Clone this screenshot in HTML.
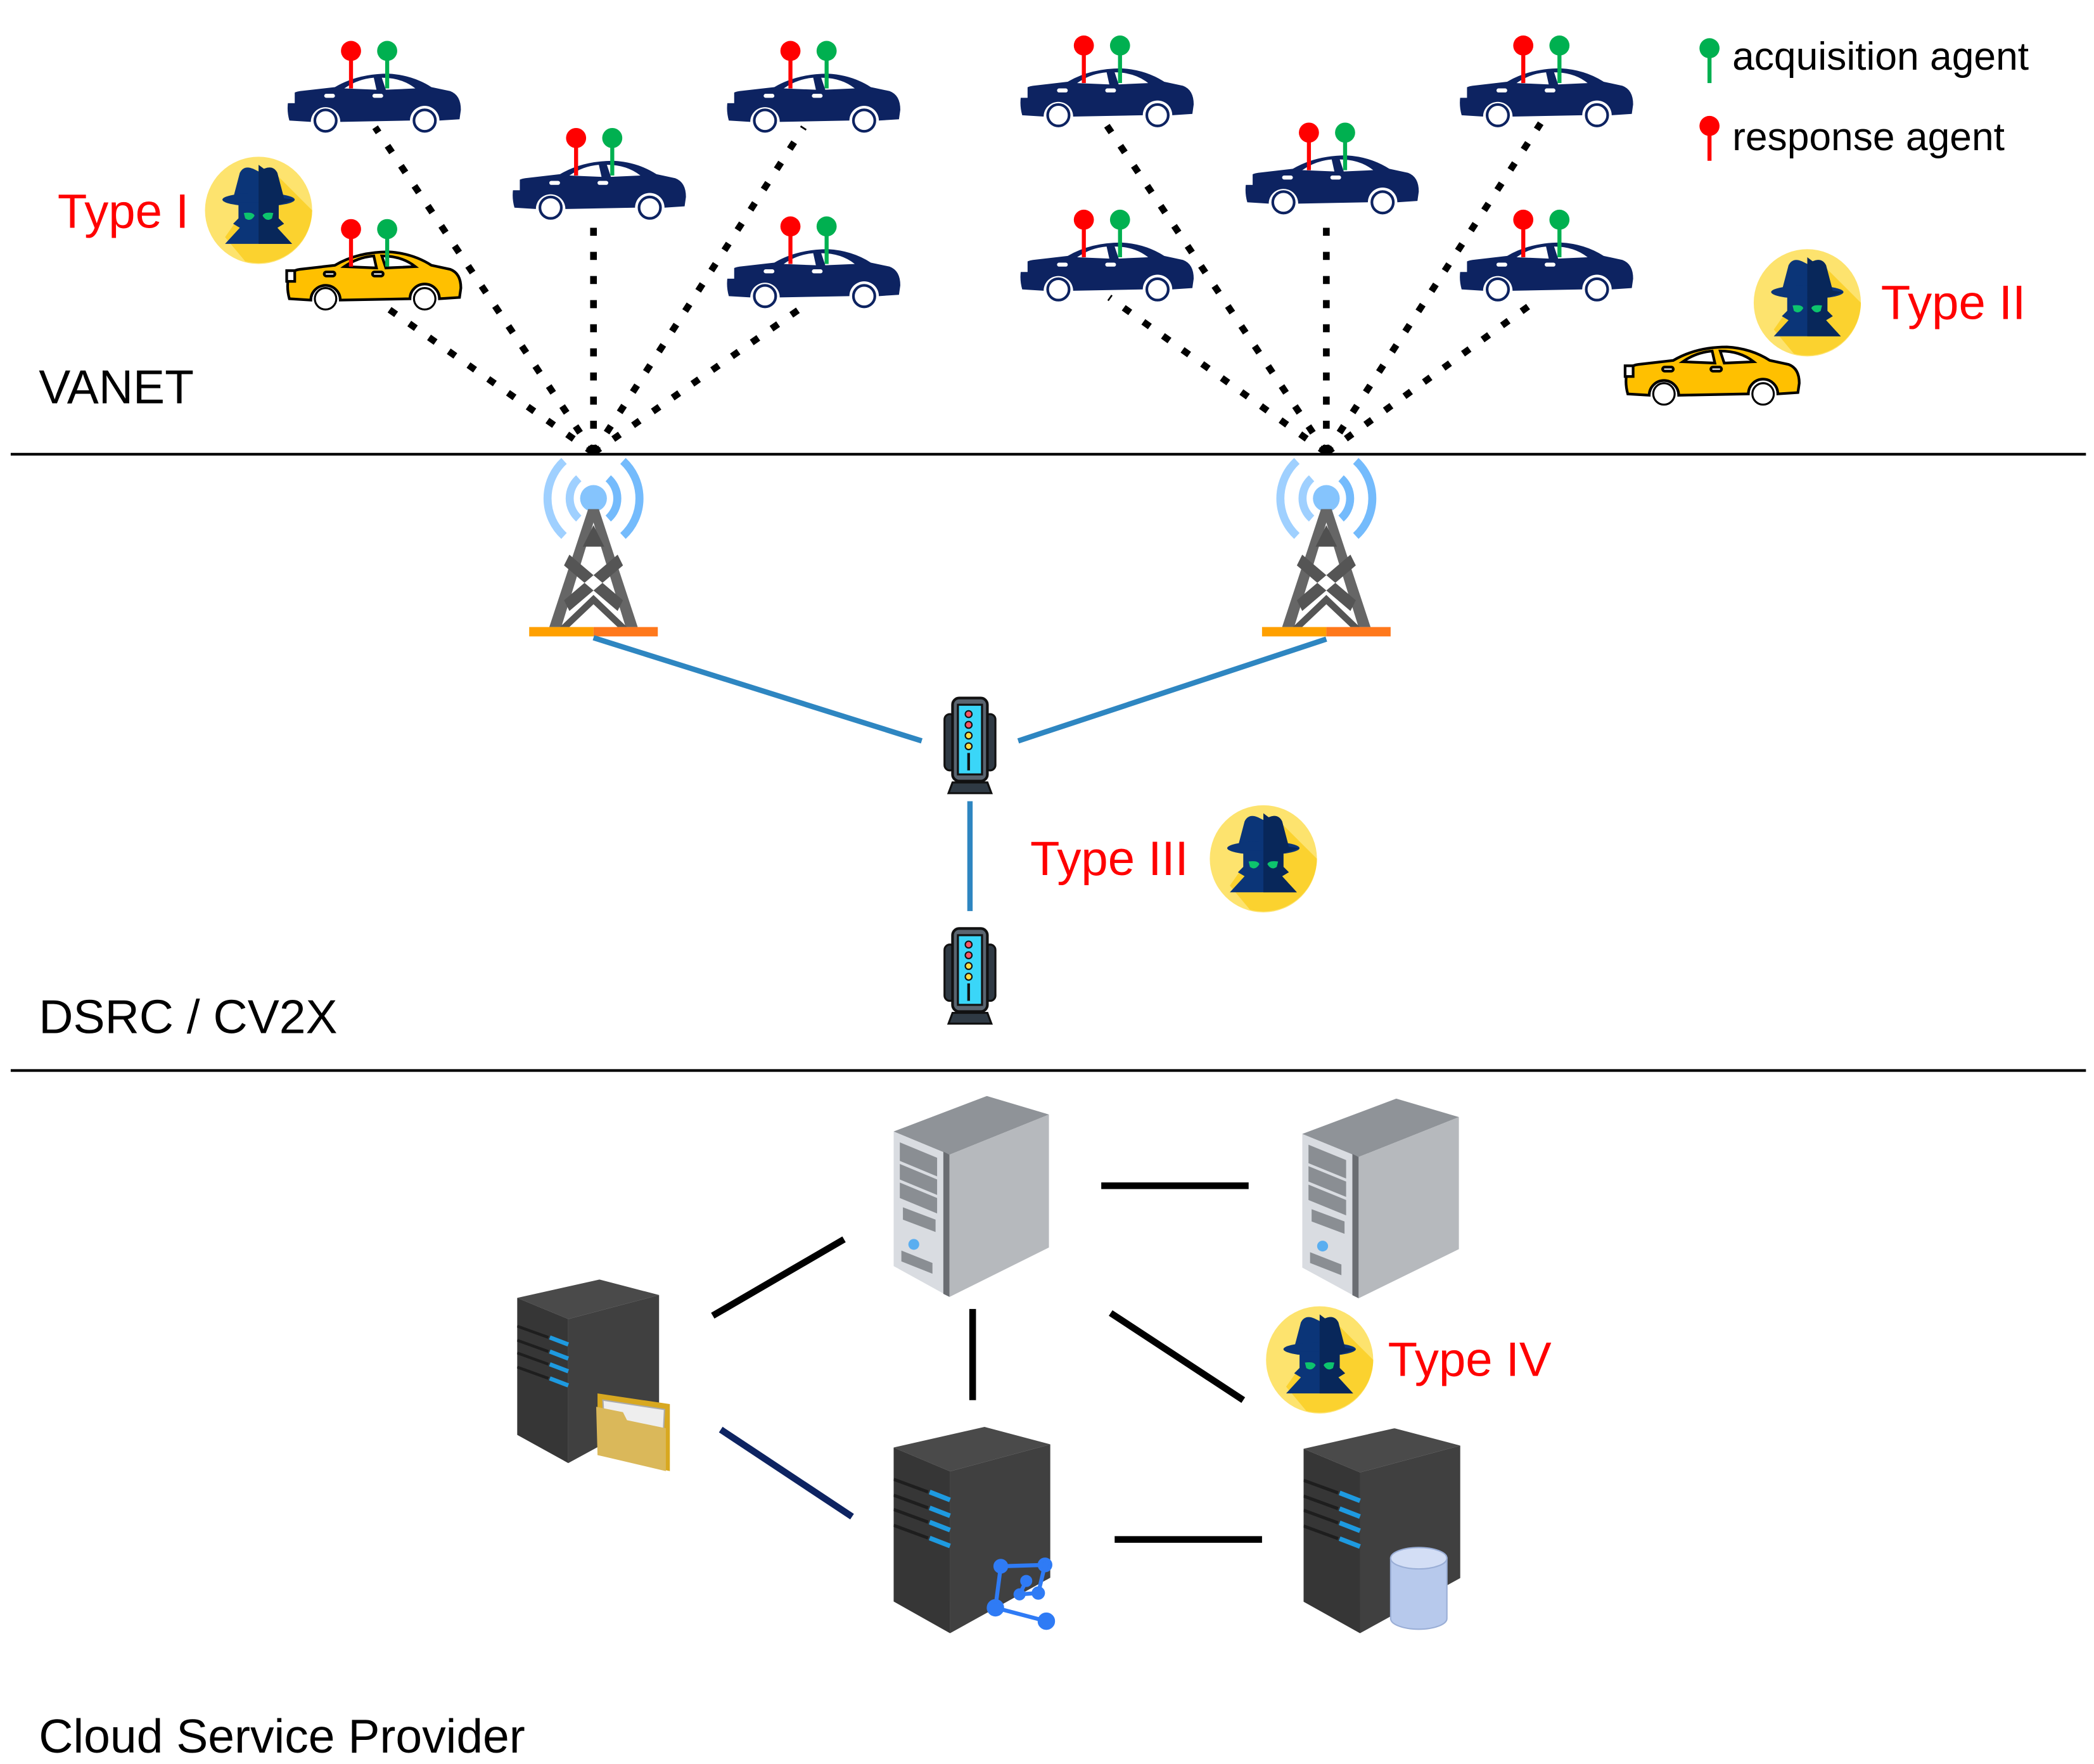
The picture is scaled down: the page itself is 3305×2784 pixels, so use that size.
<!DOCTYPE html>
<html><head><meta charset="utf-8"><style>
html,body{margin:0;padding:0;background:#fff;}
svg{display:block;}
text{font-family:"Liberation Sans",Arial,sans-serif;}
</style></head><body>
<svg width="3305" height="2784" viewBox="0 0 1563 1316.6" preserveAspectRatio="none" xmlns="http://www.w3.org/2000/svg">
<defs>
<g id="carbody">
  <path d="M3,24 Q4,17 12,16 L38,13 Q55,3 78,3 Q96,4 110,13 L124,16 Q132,19 132,30 L131,37 L116,38 A11,11 0 0 0 94,38 L42,39 A11,11 0 0 0 20,39 L4,38 Q2,31 3,24Z"/>
  <path d="M45,14 Q55,7 67,6 L69,15 Z M73,6 Q88,6 98,14 L76,15Z" fill="#fff"/>
  <rect x="30" y="18" width="8" height="3" rx="1.5" fill="#fff"/><rect x="66" y="18" width="8" height="3" rx="1.5" fill="#fff"/>
  <rect x="2" y="17" width="6" height="8" fill="#fff"/>
</g>
<g id="pins">
  <rect x="48.5" y="-12" width="3" height="26" fill="#f00"/>
  <circle cx="50" cy="-14" r="7.5" fill="#f00"/>
  <rect x="75.5" y="-12" width="3" height="26" fill="#00b050"/>
  <circle cx="77" cy="-14" r="7.5" fill="#00b050"/>
</g>
<g id="navycar">
  <g fill="#0d2361"><use href="#carbody"/></g>
  <circle cx="31" cy="38" r="8" fill="#fff" stroke="#0d2361" stroke-width="2"/>
  <circle cx="105" cy="38" r="8" fill="#fff" stroke="#0d2361" stroke-width="2"/>
</g>
<g id="yellowcar">
  <g fill="#ffc000" stroke="#000" stroke-width="2"><use href="#carbody"/></g>
  <circle cx="31" cy="38" r="8" fill="#fff" stroke="#000" stroke-width="1.5"/>
  <circle cx="105" cy="38" r="8" fill="#fff" stroke="#000" stroke-width="1.5"/>
</g>
<g id="hacker">
  <circle r="40" fill="#fde36e"/>
  <path d="M10,-30 L40,0 A40,40 0 0 1 -10,38 L-25,20Z" fill="#fbd22f"/>
  <path d="M-14,-28 Q-11,-34 -4,-31 L0,-29 L4,-31 Q11,-34 14,-28 L19,-9 L-19,-9Z" fill="#0b3578"/>
  <ellipse cx="0" cy="-8" rx="27" ry="5" fill="#0b3578"/>
  <path d="M-15,-6 L-15,6 L-19,10 L-14,13 L-25,25 L25,25 L14,13 L19,10 L15,6 L15,-6Z" fill="#0b3578"/>
  <path d="M0,-34 L4,-31 Q11,-34 14,-28 L19,-9 L27,-8 L15,-4 L15,6 L19,10 L14,13 L25,25 L0,25Z" fill="#08275a"/>
  <path d="M-11,2 Q-4,1 -3,4 Q-6,9 -10,6Z M11,2 Q4,1 3,4 Q6,9 10,6Z" fill="#0dc46d"/>
</g>
<g id="tower">
  <path d="M-22,-28 A38,38 0 0 0 -22,28" fill="none" stroke="#9fd0ff" stroke-width="6"/>
  <path d="M-11,-15 A20,20 0 0 0 -11,15" fill="none" stroke="#9fd0ff" stroke-width="6"/>
  <path d="M22,-28 A38,38 0 0 1 22,28" fill="none" stroke="#74bbfc" stroke-width="6"/>
  <path d="M11,-15 A20,20 0 0 1 11,15" fill="none" stroke="#74bbfc" stroke-width="6"/>
  <circle r="10" fill="#85c4fd"/>
  <path d="M-4,8 L4,8 L33,96 L24,96 L0,18 L-24,96 L-33,96Z" fill="#666"/>
  <path d="M-8,36 L8,36 L0,20Z" fill="#505050"/>
  <path d="M-22,76 L18,42 L22,50 L-18,84Z M22,76 L-18,42 L-22,50 L18,84Z M-25,96 L0,72 L25,96 L18,96 L0,79 L-18,96Z" fill="#555"/>
  <rect x="-48" y="96" width="48" height="7" fill="#ffa000"/>
  <rect x="0" y="96" width="48" height="7" fill="#ff781c"/>
</g>
<g id="rsu">
  <rect x="0" y="16" width="8" height="42" rx="4" fill="#2f3a44" stroke="#111" stroke-width="1.5"/>
  <rect x="30" y="16" width="8" height="42" rx="4" fill="#2f3a44" stroke="#111" stroke-width="1.5"/>
  <rect x="6" y="4" width="26" height="62" rx="5" fill="#5a6570" stroke="#111" stroke-width="2"/>
  <rect x="10" y="9" width="18" height="52" fill="#3ad6f8" stroke="#111" stroke-width="1.5"/>
  <circle cx="18" cy="16" r="2.5" fill="#f56" stroke="#111"/><circle cx="18" cy="24" r="2.5" fill="#f56" stroke="#111"/>
  <circle cx="18" cy="32" r="2.5" fill="#fd4" stroke="#111"/><circle cx="18" cy="40" r="2.5" fill="#fd4" stroke="#111"/>
  <rect x="17" y="45" width="2" height="13" fill="#111"/>
  <path d="M3,75 L6,67 L32,67 L35,75Z" fill="#2f3a44" stroke="#111" stroke-width="1.5"/>
</g>
<symbol id="blacksrv" viewBox="0 0 100 130" preserveAspectRatio="none">
  <path d="M0,13 L58,0 L100,11 L36,28Z" fill="#4a4a4a"/>
  <path d="M0,13 L36,28 L36,130 L0,110Z" fill="#363636"/>
  <path d="M36,28 L100,11 L100,95 L36,130Z" fill="#404040"/>
  <g stroke="#1e1e1e" stroke-width="2"><path d="M0,33 L22,41 M0,43 L22,51 M0,52 L22,60 M0,62 L22,70"/></g>
  <g stroke="#1e9ae0" stroke-width="3"><path d="M23,41 L36,46 M23,51 L36,56 M23,60 L36,65 M23,70 L36,75"/></g>
</symbol>
<symbol id="greysrv" viewBox="0 0 100 130" preserveAspectRatio="none">
  <path d="M0,23 L60,0 L100,12 L36,38Z" fill="#8f9398"/>
  <path d="M0,23 L36,38 L36,130 L0,110Z" fill="#d9dce1"/>
  <path d="M32,36 L36,38 L36,130 L32,128Z" fill="#6a6d72"/>
  <path d="M36,38 L100,12 L100,98 L36,130Z" fill="#b6b9bd"/>
  <g fill="#8a8e93"><path d="M4,30 L28,40 L28,52 L4,42Z M4,44 L28,54 L28,64 L4,54Z M4,56 L28,66 L28,76 L4,66Z M6,72 L27,80 L27,88 L6,80Z M5,100 L25,108 L25,115 L5,107Z"/></g>
  <circle cx="13" cy="96" r="3.5" fill="#5aaef0"/>
</symbol>
</defs>

<line x1="8" y1="339" x2="1557" y2="339" stroke="#000" stroke-width="2"/>
<line x1="8" y1="799" x2="1557" y2="799" stroke="#000" stroke-width="2"/>

<g stroke="#000" stroke-width="5" stroke-dasharray="6 12" fill="none">
  <line x1="443" y1="338" x2="280" y2="95"/>
  <line x1="443" y1="338" x2="443" y2="160"/>
  <line x1="443" y1="338" x2="600" y2="95"/>
  <line x1="443" y1="338" x2="605" y2="225"/>
  <line x1="443" y1="338" x2="282" y2="225"/>
  <line x1="990" y1="338" x2="825" y2="92"/>
  <line x1="990" y1="338" x2="990" y2="158"/>
  <line x1="990" y1="338" x2="1150" y2="92"/>
  <line x1="990" y1="338" x2="1150" y2="222"/>
  <line x1="990" y1="338" x2="828" y2="222"/>
</g>

<g transform="translate(212,52)"><use href="#navycar"/><use href="#pins"/></g>
<g transform="translate(380,117)"><use href="#navycar"/><use href="#pins"/></g>
<g transform="translate(540,52)"><use href="#navycar"/><use href="#pins"/></g>
<g transform="translate(540,183)"><use href="#navycar"/><use href="#pins"/></g>
<g transform="translate(759,48)"><use href="#navycar"/><use href="#pins"/></g>
<g transform="translate(927,113)"><use href="#navycar"/><use href="#pins"/></g>
<g transform="translate(759,178)"><use href="#navycar"/><use href="#pins"/></g>
<g transform="translate(1087,48)"><use href="#navycar"/><use href="#pins"/></g>
<g transform="translate(1087,178)"><use href="#navycar"/><use href="#pins"/></g>
<g transform="translate(212,185)"><use href="#yellowcar"/><use href="#pins"/></g>
<g transform="translate(1211,256)"><use href="#yellowcar"/></g>

<rect x="1274.5" y="36" width="3" height="26" fill="#00b050"/><circle cx="1276" cy="36" r="7.5" fill="#00b050"/>
<text x="1293" y="52" font-size="29.5">acquisition agent</text>
<rect x="1274.5" y="94" width="3" height="26" fill="#f00"/><circle cx="1276" cy="94" r="7.5" fill="#f00"/>
<text x="1293" y="112" font-size="29.5">response agent</text>

<use href="#hacker" transform="translate(193,157)"/>
<text x="43" y="170" font-size="36" fill="#f00">Type I</text>
<use href="#hacker" transform="translate(1349,226)"/>
<text x="1404" y="238" font-size="36" fill="#f00">Type II</text>
<use href="#hacker" transform="translate(943,641)"/>
<text x="769" y="653" font-size="36" fill="#f00">Type III</text>
<use href="#hacker" transform="translate(985,1015)"/>
<text x="1036" y="1027" font-size="36" fill="#f00">Type IV</text>

<text x="29" y="301" font-size="35.5">VANET</text>
<text x="29" y="771" font-size="35.5">DSRC / CV2X</text>
<text x="29" y="1308" font-size="35.5">Cloud Service Provider</text>

<use href="#tower" transform="translate(443,372)"/>
<use href="#tower" transform="translate(990,372)"/>

<g stroke="#2e86c1" stroke-width="4">
  <line x1="443" y1="476" x2="688" y2="553"/>
  <line x1="990" y1="477" x2="760" y2="553"/>
  <line x1="724" y1="598" x2="724" y2="680"/>
</g>
<use href="#rsu" transform="translate(705,517)"/>
<use href="#rsu" transform="translate(705,689)"/>

<g stroke="#000" stroke-width="5">
  <line x1="822" y1="885" x2="932" y2="885"/>
  <line x1="532" y1="982" x2="630" y2="925"/>
  <line x1="726" y1="977" x2="726" y2="1045"/>
  <line x1="829" y1="980" x2="928" y2="1045"/>
  <line x1="832" y1="1149" x2="942" y2="1149"/>
</g>
<line x1="538" y1="1067" x2="636" y2="1132" stroke="#0d2361" stroke-width="5"/>

<use href="#greysrv" x="667" y="818" width="116" height="150"/>
<use href="#greysrv" x="972" y="820" width="117" height="149"/>
<use href="#blacksrv" x="386" y="955" width="106" height="137"/>
<use href="#blacksrv" x="667" y="1065" width="117" height="154"/>
<use href="#blacksrv" x="973" y="1066" width="117" height="153"/>

<path d="M446,1040 L500,1048 L500,1098 L446,1086Z" fill="#d8a820"/>
<path d="M450,1045 L496,1052 L494,1094 L452,1082Z" fill="#eee" stroke="#aaa"/>
<path d="M445,1050 L465,1054 L468,1060 L497,1066 L497,1098 L446,1086Z" fill="#dab85a"/>

<g stroke="#2f7bf5" stroke-width="3" fill="#2f7bf5">
  <path d="M747,1169 L780,1168 L775,1189 L761,1190 L766,1180 M743,1200 L747,1169 M743,1200 L781,1210" fill="none"/>
  <circle cx="747" cy="1169" r="4"/><circle cx="780" cy="1168" r="4"/><circle cx="775" cy="1189" r="3.5"/><circle cx="761" cy="1190" r="3"/><circle cx="766" cy="1180" r="3"/><circle cx="743" cy="1200" r="5"/><circle cx="781" cy="1210" r="5"/>
</g>

<path d="M1038,1163 L1038,1208 A21,8 0 0 0 1080,1208 L1080,1163Z" fill="#b7c9ec" stroke="#9aaed6"/>
<ellipse cx="1059" cy="1163" rx="21" ry="8" fill="#d3def5" stroke="#9aaed6"/>
</svg>
</body></html>
